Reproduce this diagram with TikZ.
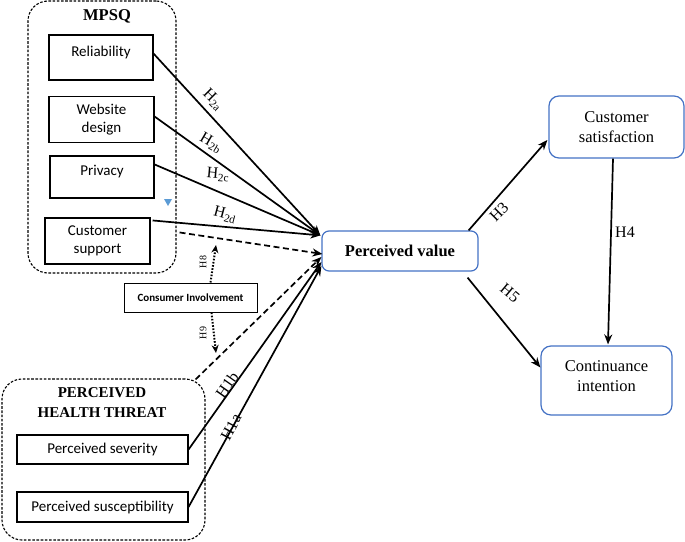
\documentclass[tikz,border=0pt]{standalone}
\usepackage{fontspec}
\setmainfont{Liberation Serif}
\newfontfamily\calibfont{Carlito}
\usetikzlibrary{arrows.meta,calc}
\definecolor{boxblue}{RGB}{68,114,196}
\definecolor{triblue}{RGB}{91,155,213}
\begin{document}
\begin{tikzpicture}[x=1pt,y=-1pt,
  sqbox/.style={draw, line width=1.1pt, inner sep=0pt, align=center, font=\calibfont\fontsize{15}{18}\selectfont},
  sqtext/.style={font=\calibfont\fontsize{15}{18}\selectfont, inner sep=0pt},
  bluebox/.style={draw=boxblue, line width=1.2pt, rounded corners=7pt, inner sep=0pt, align=center, font=\fontsize{16.5}{20}\selectfont},
  grp/.style={draw, dash pattern=on 2.6pt off 1.6pt, line width=1.1pt, rounded corners=20pt, inner sep=0pt},
  grptitle/.style={font=\bfseries\fontsize{15}{20}\selectfont, align=center, inner sep=0pt},
  arr/.style={line width=1.7pt, -{Stealth[length=10pt,width=8pt]}},
  darr/.style={arr, dash pattern=on 6pt off 3.5pt},
  dotarr/.style={line width=2pt, dash pattern=on 1.6pt off 1.6pt, -{Stealth[length=8pt,width=7pt]}},
  hl/.style={font=\fontsize{16}{18}\selectfont, inner sep=0pt},
  hs/.style={font=\fontsize{10}{12}\selectfont, inner sep=0pt}
]
\useasboundingbox (0,0) rectangle (685,541);

% MPSQ group
\node[grp, minimum width=148pt, minimum height=272pt] (mpsq) at (102,137) {};
\node[grptitle, font=\bfseries\fontsize{16.5}{20}\selectfont] (mpsqt) at (107,16) {MPSQ};
\node[sqbox, minimum width=104pt, minimum height=45pt,
      label={[sqtext, yshift=5.5pt]center:Reliability}] (rel) at (101,57.5) {};
\node[sqbox, minimum width=105pt, minimum height=46pt] (web) at (101.5,119.5) {Website\\design};
\node[sqbox, minimum width=104pt, minimum height=42pt,
      label={[sqtext, yshift=5pt]center:Privacy}] (priv) at (102,177) {};
\node[sqbox, minimum width=105pt, minimum height=46pt] (cs) at (97.5,241) {Customer\\support};
\fill[triblue] (164,199) -- (172,199) -- (168,206) -- cycle;

% Perceived health threat group
\node[grp, minimum width=203pt, minimum height=161pt] (pht) at (103.5,459.5) {};
\node[grptitle] (phtt) at (102,403) {PERCEIVED\\HEALTH THREAT};
\node[sqbox, minimum width=171pt, minimum height=29pt] (sev) at (102.5,449.5) {Perceived severity};
\node[sqbox, minimum width=171pt, minimum height=30pt] (sus) at (102.5,507) {Perceived susceptibility};

% moderator
\node[sqbox, line width=1pt, minimum width=133pt, minimum height=29pt,
      font=\calibfont\bfseries\fontsize{11}{13}\selectfont] (inv) at (190.5,297.5) {Consumer Involvement};

% right side
\node[bluebox, minimum width=156pt, minimum height=40pt, font=\bfseries\fontsize{16.5}{20}\selectfont] (pv) at (400,251) {Perceived value};
\node[bluebox, minimum width=135pt, minimum height=62pt, rounded corners=10pt] (sat) at (616.5,127) {Customer\\satisfaction};
\node[bluebox, minimum width=131pt, minimum height=69pt, rounded corners=10pt] (ci) at (606.5,380.5) {Continuance\\intention\\[-11pt]\mbox{}};

% targets on perceived value
\coordinate (pA) at ($(pv.north west)+(-1,5)$);
\coordinate (pB) at ($(pv.west)+(1,3)$);
\coordinate (pC) at ($(pv.west)+(0,6)$);
\coordinate (pD) at ($(pv.west)+(0,11)$);
\coordinate (pE) at ($(pv.west)+(0,15)$);
\coordinate (h8end) at (216,245);
\coordinate (h9end) at (216,353);

% MPSQ arrows
\draw[arr] ($(rel.east)+(-1,-5)$) -- (pA);
\draw[arr] ($(web.east)+(0,-3)$) -- (pA);
\draw[arr] ($(priv.east)+(-1,-13)$) -- (pA);
\draw[arr] ($(cs.north east)+(2,3)$) -- (pA);
\draw[darr] ($(mpsq.north east)+(3,232)$) -- (pB);
\draw[darr] ($(pht.north east)+(-10,1)$) -- (pC);
\draw[arr] (sev.east) -- (pD);
\draw[arr] (sus.east) -- (pE);
\draw[dotarr] ($(inv.north)+(20,0)$) -- (h8end);
\draw[dotarr] ($(inv.south)+(21,0)$) -- (h9end);

% right arrows
\draw[arr] ($(pv.north east)+(-10,0)$) -- ($(sat.west)+(-1,13)$);
\draw[arr] ($(pv.south east)+(-11,6)$) -- ($(ci.west)+(0,-13)$);
\draw[arr] ($(sat.south)+(-3.5,0)$) -- ($(ci.north)+(1.5,-1)$);

% labels
\node[hl, rotate=-45] (l2a) at (213,100) {H\textsubscript{2a}};
\node[hl, rotate=-30] (l2b) at (211,143) {H\textsubscript{2b}};
\node[hl, rotate=-5] (l2c) at (218,175) {H\textsubscript{2c}};
\node[hl, rotate=-15] (l2d) at (225,215) {H\textsubscript{2d}};
\node[hs, rotate=90] (l8) at (203,262) {H8};
\node[hs, rotate=90] (l9) at (203,333) {H9};
\node[hl, rotate=55] (l1b) at (227,385) {H1b};
\node[hl, rotate=62] (l1a) at (231,427) {H1a};
\node[hl, rotate=45] (l3) at (499,212) {H3};
\node[hl, rotate=-40] (l5) at (510,293) {H5};
\node[hl] (l4) at (625,232) {H4};
\end{tikzpicture}
\end{document}
